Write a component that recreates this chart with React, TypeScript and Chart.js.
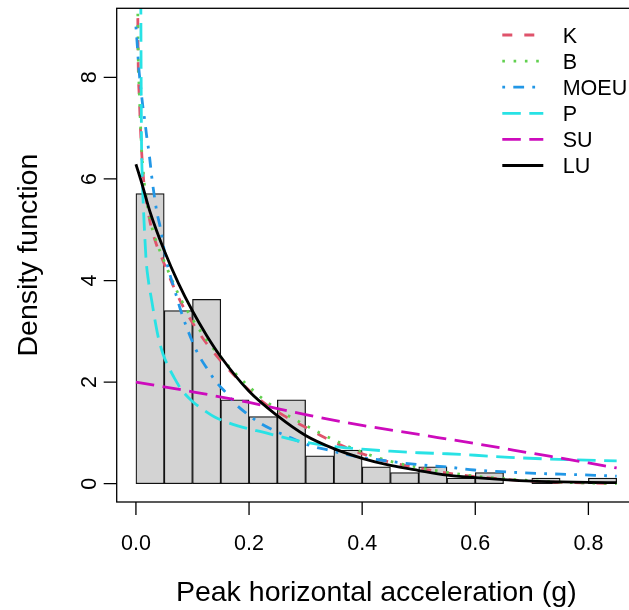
import React, { useEffect, useRef } from "react";
import { Chart, registerables } from "chart.js";

Chart.register(...registerables);

// ---------- data ----------
// Histogram on the density scale, bins of width 0.05 from 0 to 0.85
const binCenters = [0.025, 0.075, 0.125, 0.175, 0.225, 0.275, 0.325, 0.375, 0.425, 0.475, 0.525, 0.575, 0.625, 0.675, 0.725, 0.775, 0.825];
const binDensities = [5.71, 3.41, 3.63, 1.65, 1.32, 1.65, 0.55, 0.66, 0.33, 0.22, 0.33, 0.11, 0.22, 0, 0.11, 0, 0.11];

// K
const kX = [0.003, 0.004, 0.006, 0.008, 0.01, 0.0135, 0.018, 0.025, 0.035, 0.05, 0.065, 0.08, 0.1, 0.125, 0.15, 0.175, 0.2, 0.23, 0.26, 0.3, 0.33, 0.37, 0.4, 0.44, 0.49, 0.54, 0.6, 0.65, 0.7, 0.75, 0.8, 0.85];
const kY = [9.6, 8.3, 7.6, 7.0, 6.55, 6.0, 5.6, 5.15, 4.75, 4.33, 3.92, 3.56, 3.17, 2.76, 2.42, 2.12, 1.84, 1.56, 1.35, 1.11, 0.93, 0.72, 0.59, 0.45, 0.33, 0.23, 0.14, 0.09, 0.05, 0.028, 0.013, 0.004];

// B
const bX = [0.003, 0.004, 0.006, 0.008, 0.01, 0.0135, 0.018, 0.025, 0.035, 0.05, 0.065, 0.08, 0.1, 0.125, 0.15, 0.175, 0.2, 0.23, 0.26, 0.3, 0.33, 0.37, 0.4, 0.44, 0.49, 0.54, 0.6, 0.65, 0.7, 0.75, 0.8, 0.85];
const bY = [9.7, 8.5, 7.7, 7.1, 6.6, 6.05, 5.65, 5.2, 4.8, 4.38, 3.98, 3.62, 3.24, 2.83, 2.49, 2.18, 1.91, 1.62, 1.4, 1.15, 0.97, 0.76, 0.62, 0.47, 0.34, 0.24, 0.15, 0.1, 0.06, 0.03, 0.013, 0.003];

// MOEU
const moeuX = [0, 0.002, 0.005, 0.0085, 0.0124, 0.016, 0.019, 0.023, 0.029, 0.037, 0.043, 0.05, 0.058, 0.067, 0.081, 0.099, 0.111, 0.128, 0.14, 0.161, 0.176, 0.196, 0.217, 0.238, 0.264, 0.291, 0.314, 0.341, 0.367, 0.397, 0.444, 0.471, 0.524, 0.55, 0.598, 0.657, 0.716, 0.775, 0.85];
const moeuY = [9.0, 8.7, 8.2, 7.8, 7.41, 7.12, 6.84, 6.53, 5.95, 5.35, 5.05, 4.6, 4.2, 3.87, 3.35, 2.82, 2.53, 2.23, 2.03, 1.77, 1.57, 1.38, 1.21, 1.08, 0.95, 0.82, 0.73, 0.66, 0.59, 0.52, 0.45, 0.41, 0.35, 0.33, 0.27, 0.23, 0.2, 0.18, 0.15];

// P
const pX = [0.0086, 0.0092, 0.0098, 0.011, 0.013, 0.0155, 0.018, 0.022, 0.028, 0.034, 0.04, 0.048, 0.055, 0.067, 0.08, 0.1, 0.12, 0.14, 0.18, 0.23, 0.28, 0.32, 0.36, 0.4, 0.45, 0.5, 0.55, 0.6, 0.66, 0.72, 0.78, 0.85];
const pY = [9.6, 8.0, 6.8, 6.1, 5.5, 4.9, 4.4, 4.0, 3.6, 3.2, 2.86, 2.55, 2.36, 2.1, 1.86, 1.62, 1.45, 1.31, 1.14, 1.0, 0.86, 0.78, 0.72, 0.68, 0.64, 0.61, 0.59, 0.56, 0.52, 0.49, 0.47, 0.45];

// SU
const suX = [0, 0.1, 0.2, 0.3, 0.4, 0.5, 0.6, 0.7, 0.8, 0.85];
const suY = [2.0, 1.81, 1.6, 1.36, 1.15, 0.97, 0.79, 0.6, 0.41, 0.31];

// LU
const luX = [0, 0.01, 0.025, 0.05, 0.075, 0.1, 0.125, 0.15, 0.2, 0.25, 0.3, 0.35, 0.4, 0.45, 0.5, 0.55, 0.6, 0.65, 0.7, 0.75, 0.8, 0.85];
const luY = [6.29, 5.93, 5.35, 4.59, 3.95, 3.4, 2.92, 2.5, 1.82, 1.34, 0.95, 0.69, 0.5, 0.36, 0.26, 0.17, 0.12, 0.08, 0.05, 0.035, 0.025, 0.02];

const xTicks = [0, 0.2, 0.4, 0.6, 0.8];
const yTicks = [0, 2, 4, 6, 8];
const xTitle = "Peak horizontal acceleration (g)";
const yTitle = "Density function";

// ---------- styling ----------
const FONT = '"Liberation Sans", Arial, Helvetica, sans-serif';
const LW = 2.8;

function pts(xs: number[], ys: number[]) {
  return xs.map((x, i) => ({ x, y: ys[i] }));
}

function lineDs(label: string, xs: number[], ys: number[], color: string, dash: number[], order: number) {
  return {
    type: "line" as const,
    label,
    data: pts(xs, ys),
    borderColor: color,
    backgroundColor: color,
    borderWidth: LW,
    borderDash: dash,
    borderCapStyle: "butt" as const,
    borderJoinStyle: "round" as const,
    pointRadius: 0,
    pointHoverRadius: 0,
    fill: false,
    cubicInterpolationMode: "monotone" as const,
    clip: 0,
    order,
  };
}

const rStylePlot = {
  id: "rStylePlot",
  afterDatasetsDraw(chart: any) {
    const { ctx, chartArea: a, scales } = chart;
    const xs = scales.x;
    const ys = scales.y;
    ctx.save();
    ctx.setLineDash([]);
    ctx.strokeStyle = "#000";
    ctx.lineWidth = 1.3;
    // box
    ctx.strokeRect(a.left, a.top, a.right - a.left, a.bottom - a.top);
    // tick marks
    ctx.beginPath();
    xTicks.forEach((v) => {
      const px = xs.getPixelForValue(v);
      ctx.moveTo(px, a.bottom);
      ctx.lineTo(px, a.bottom + 13);
    });
    yTicks.forEach((v) => {
      const py = ys.getPixelForValue(v);
      ctx.moveTo(a.left, py);
      ctx.lineTo(a.left - 13, py);
    });
    ctx.stroke();

    ctx.fillStyle = "#000";
    ctx.font = `21.5px ${FONT}`;
    ctx.textAlign = "center";
    ctx.textBaseline = "alphabetic";
    xTicks.forEach((v) => {
      ctx.fillText(v.toFixed(1), xs.getPixelForValue(v), a.bottom + 48);
    });
    yTicks.forEach((v) => {
      ctx.save();
      ctx.translate(a.left - 21, ys.getPixelForValue(v));
      ctx.rotate(-Math.PI / 2);
      ctx.fillText(String(v), 0, 0);
      ctx.restore();
    });

    // axis titles
    ctx.font = `28.5px ${FONT}`;
    ctx.fillText(xTitle, (a.left + a.right) / 2, a.bottom + 99);
    ctx.save();
    ctx.translate(37, (a.top + a.bottom) / 2);
    ctx.rotate(-Math.PI / 2);
    ctx.fillText(yTitle, 0, 0);
    ctx.restore();

    // legend (no box), in dataset order
    const items = chart.data.datasets.filter((d: any) => d.type === "line");
    ctx.font = `21.5px ${FONT}`;
    ctx.textAlign = "left";
    items.forEach((d: any, i: number) => {
      const yRow = 35 + i * 26.1;
      ctx.save();
      ctx.strokeStyle = d.borderColor;
      ctx.lineWidth = d.borderWidth;
      ctx.setLineDash(d.borderDash || []);
      ctx.lineCap = "butt";
      ctx.beginPath();
      ctx.moveTo(502.3, yRow);
      ctx.lineTo(543.3, yRow);
      ctx.stroke();
      ctx.restore();
      ctx.fillText(d.label, 562.7, yRow + 7.7);
    });
    ctx.restore();
  },
};

export default function App() {
  const canvasRef = useRef<HTMLCanvasElement | null>(null);

  useEffect(() => {
    document.body.style.margin = "0";
    const canvas = canvasRef.current;
    if (!canvas) return;
    const chart = new Chart(canvas, {
      type: "bar",
      data: {
        datasets: [
          {
            type: "bar",
            label: "hist",
            data: pts(binCenters, binDensities),
            backgroundColor: "#D3D3D3",
            borderColor: "#111111",
            borderWidth: 1.25,
            borderSkipped: false,
            barPercentage: 1,
            categoryPercentage: 1,
            order: 10,
          } as any,
          lineDs("K", kX, kY, "#DF536B", [10, 12], 6),
          lineDs("B", bX, bY, "#61D04F", [2.6, 8.7], 5),
          lineDs("MOEU", moeuX, moeuY, "#2297E6", [2.8, 8.2, 10.8, 8.2], 4),
          lineDs("P", pX, pY, "#28E2E5", [18.5, 8.5], 3),
          lineDs("SU", suX, suY, "#CD0BBC", [18.5, 8.5], 2),
          lineDs("LU", luX, luY, "#000000", [], 1),
        ] as any,
      },
      options: {
        responsive: false,
        maintainAspectRatio: false,
        devicePixelRatio: 1,
        animation: false,
        events: [],
        layout: { padding: { left: 116.7, right: 4.1, top: 8.3, bottom: 108 } },
        plugins: { legend: { display: false }, tooltip: { enabled: false } },
        scales: {
          x: {
            type: "linear",
            display: false,
            min: -0.034,
            max: 0.884,
            offset: false,
            ticks: { includeBounds: false },
            afterBuildTicks: (scale: any) => {
              scale.ticks = xTicks.map((v) => ({ value: v }));
            },
          },
          y: {
            type: "linear",
            display: false,
            min: -0.36,
            max: 9.36,
            ticks: { includeBounds: false },
            afterBuildTicks: (scale: any) => {
              scale.ticks = yTicks.map((v) => ({ value: v }));
            },
          },
        },
      } as any,
      plugins: [rStylePlot],
    });
    return () => chart.destroy();
  }, []);

  return (
    <div
      style={{
        position: "absolute",
        left: 0,
        top: 0,
        width: 629,
        height: 610,
        overflow: "hidden",
        background: "#ffffff",
      }}
    >
      <canvas ref={canvasRef} width={640} height={610} style={{ display: "block" }} />
    </div>
  );
}
